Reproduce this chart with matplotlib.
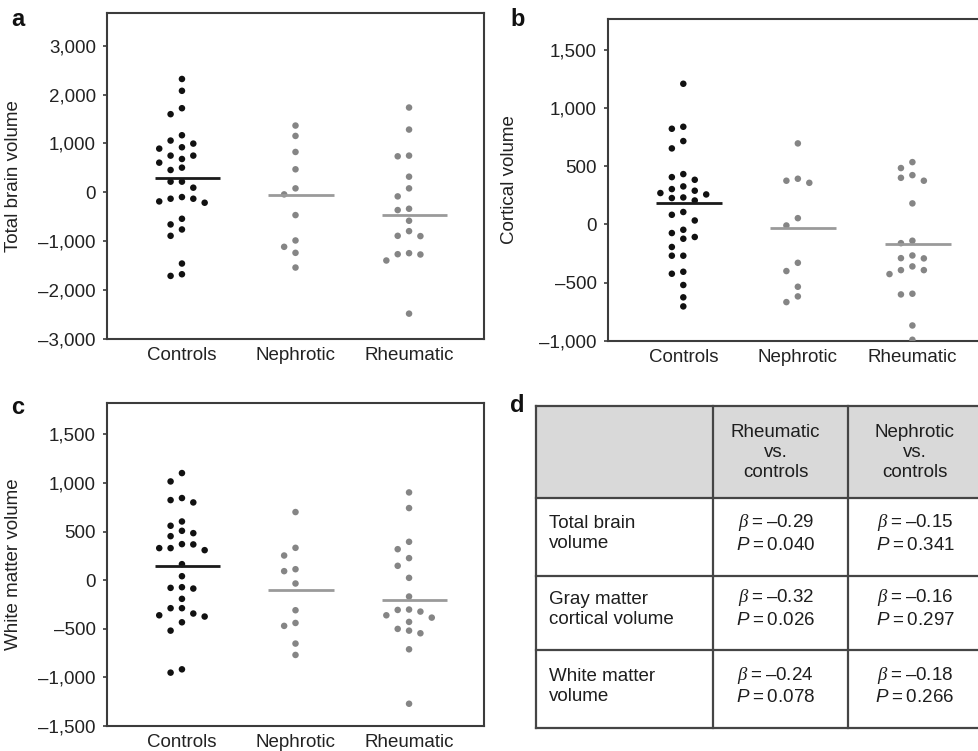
import numpy as np
import matplotlib
matplotlib.use("Agg")
import matplotlib.pyplot as plt
from matplotlib.patches import Rectangle
from matplotlib.lines import Line2D

plt.rcParams['font.family'] = ['Liberation Sans', 'DejaVu Sans']
plt.rcParams['mathtext.fontset'] = 'custom'
plt.rcParams['mathtext.rm'] = 'Liberation Sans'
plt.rcParams['mathtext.it'] = 'Liberation Sans:italic'
plt.rcParams['mathtext.sf'] = 'Liberation Serif:italic'

# ---------------- data ----------------
groups = ["Controls", "Nephrotic", "Rheumatic"]

total_controls = [2320, 2078, 1722, 1600, 1169, 998, 1060, 895, 923, 683, 752, 752,
                  608, 506, 458, 219, 219, 96, -130, -212, -130, -185, -96, -656,
                  -540, -759, -889, -1456, -1675, -1709]
total_nephrotic = [1367, 1155, 827, 472, 82, -41, -465, -984, -1114, -1237, -1538]
total_rheumatic = [1736, 1285, 738, 752, 321, 82, -82, -335, -362, -581, -793, -895,
                   -889, -1271, -1394, -1244, -1265, -2481]
total_means = [300, -48, -465]

cort_controls = [1210, 823, 840, 717, 654, 407, 433, 384, 327, 270, 290, 304, 258,
                 227, 206, 232, 107, 83, 34, -46, -74, -108, -123, -194, -269, -269,
                 -424, -407, -521, -627, -705]
cort_nephrotic = [697, 376, 393, 358, 54, -9, -330, -401, -536, -619, -668]
cort_rheumatic = [536, 485, 401, 376, 424, 181, -161, -140, -292, -290, -267, -393,
                  -361, -427, -393, -596, -602, -869, -992]
cort_means = [181, -32, -169]

white_controls = [1102, 1016, 800, 845, 824, 604, 560, 508, 453, 484, 368, 371, 330,
                  330, 309, 165, 41, -86, -72, -79, -192, -288, -288, -343, -374, -361,
                  -433, -519, -917, -951]
white_nephrotic = [701, 333, 254, 113, 93, -34, -309, -470, -440, -652, -769]
white_rheumatic = [903, 742, 395, 319, 227, 148, 24, -168, -302, -323, -306, -361,
                   -429, -385, -501, -546, -519, -711, -1271]
white_means = [141, -103, -203]

total_ticks = [-3000, -2000, -1000, 0, 1000, 2000, 3000]
total_ticklabels = ["\u20133,000", "\u20132,000", "\u20131,000", "0", "1,000", "2,000", "3,000"]
cort_ticks = [-1000, -500, 0, 500, 1000, 1500]
cort_ticklabels = ["\u20131,000", "\u2013500", "0", "500", "1,000", "1,500"]
white_ticks = [-1500, -1000, -500, 0, 500, 1000, 1500]
white_ticklabels = ["\u20131,500", "\u20131,000", "\u2013500", "0", "500", "1,000", "1,500"]

row_labels = ["Total brain\nvolume", "Gray matter\ncortical volume", "White matter\nvolume"]
col_headers = ["Rheumatic\nvs.\ncontrols", "Nephrotic\nvs.\ncontrols"]
beta_rheum = ["\u20130.29", "\u20130.32", "\u20130.24"]
p_rheum = ["0.040", "0.026", "0.078"]
beta_neph = ["\u20130.15", "\u20130.16", "\u20130.18"]
p_neph = ["0.341", "0.297", "0.266"]

# ---------------- figure ----------------
W, H = 979, 751
FS = 13.5
fig = plt.figure(figsize=(W / 100, H / 100), dpi=100)


def px_axes(left, top, right, bottom):
    return fig.add_axes([left / W, 1 - bottom / H, (right - left) / W, (bottom - top) / H])


DARK = "#111111"
GRAY = "#858585"
LINEGRAY = "#9a9a9a"
FRAME = "#3c3c3c"


def swarm(ax, xc, vals, min_px=8.5, step=0.1):
    vals = np.asarray(vals, dtype=float)
    pix = ax.transData.transform(np.column_stack([np.zeros(len(vals)), vals]))[:, 1]
    order = np.argsort(-vals)
    placed = {}
    cols = np.zeros(len(vals))
    for i in order:
        for c in (0, -1, 1, -2, 2, -3, 3):
            if all(abs(pix[i] - p) >= min_px for p in placed.get(c, [])):
                placed.setdefault(c, []).append(pix[i])
                cols[i] = c
                break
    return xc + cols * step


def panel(ax, data, means, ylim, ticks, ticklabels, ylabel, label_x):
    ax.set_xlim(-0.66, 2.66)
    ax.set_ylim(*ylim)
    for i, (vals, m) in enumerate(zip(data, means)):
        col = DARK if i == 0 else GRAY
        lcol = "#1a1a1a" if i == 0 else LINEGRAY
        xs = swarm(ax, i, vals)
        ax.scatter(xs, vals, s=22, color=col, edgecolors='none', zorder=3)
        ax.plot([i - 0.24, i + 0.335], [m, m], color=lcol, lw=2.0, zorder=4,
                solid_capstyle='butt')
    ax.set_xticks(range(len(groups)))
    ax.set_xticklabels(groups)
    ax.set_yticks(ticks)
    ax.set_yticklabels(ticklabels)
    ax.tick_params(axis='x', length=0, pad=6, labelsize=FS, labelcolor="#222222")
    ax.tick_params(axis='y', length=3, width=1.2, color=FRAME, pad=5, labelsize=FS,
                   labelcolor="#222222")
    for s in ax.spines.values():
        s.set_color(FRAME)
        s.set_linewidth(1.5)
    ax.set_ylabel(ylabel, fontsize=FS, color="#222222")
    ax.yaxis.set_label_coords(label_x, 0.5)


ax_a = px_axes(107, 13, 484, 339)
panel(ax_a, [total_controls, total_nephrotic, total_rheumatic], total_means,
      (-3000, 3670), total_ticks, total_ticklabels, "Total brain volume", -0.226)

ax_b = px_axes(607.7, 19, 988, 340.7)
panel(ax_b, [cort_controls, cort_nephrotic, cort_rheumatic], cort_means,
      (-1000, 1767), cort_ticks, cort_ticklabels, "Cortical volume", -0.236)

ax_c = px_axes(107, 402.7, 484, 726)
panel(ax_c, [white_controls, white_nephrotic, white_rheumatic], white_means,
      (-1500, 1826), white_ticks, white_ticklabels, "White matter volume", -0.226)

# ---------------- overlay: labels and table ----------------
ov = fig.add_axes([0, 0, 1, 1], zorder=10)
ov.set_xlim(0, W)
ov.set_ylim(H, 0)
ov.axis('off')
ov.patch.set_alpha(0)

for t, x, y in [("a", 18, 19), ("b", 518, 19), ("c", 18, 407), ("d", 517, 406)]:
    ov.text(x, y, t, fontsize=17, fontweight='bold', ha='center', va='center', color="#111111")

tl, tr = 535.7, 992
tt, tb = 405.7, 727.7
hb = 498.3
rows_y = [hb, 575.7, 650, tb]
cols_x = [tl, 713.3, 848.3]
ov.add_patch(Rectangle((tl, tt), tr - tl, hb - tt, facecolor="#d9d9d9", edgecolor='none'))
for y in [tt] + rows_y:
    ov.add_line(Line2D([tl, tr], [y, y], color="#454545", lw=1.6))
for x in cols_x:
    ov.add_line(Line2D([x, x], [tt, tb], color="#454545", lw=1.6))

tkw = dict(fontsize=FS, color="#1e1e1e", linespacing=1.22)
col_centers = [775.7, 915.0]
for cx, h in zip(col_centers, col_headers):
    ov.text(cx, 452.3, h, ha='center', va='center', multialignment='center', **tkw)

row_mid = [533.9, 609.2, 686.2]
for ym, lab in zip(row_mid, row_labels):
    ov.text(549.3, ym, lab, ha='left', va='center', **tkw)

for cx, betas, ps in zip(col_centers, [beta_rheum, beta_neph], [p_rheum, p_neph]):
    for ym, b, p in zip(row_mid, betas, ps):
        ov.text(cx, ym - 11.2, r"$\mathsf{\beta}$" + "\u2009=\u2009" + b,
                ha='center', va='center', fontsize=FS, color="#1e1e1e")
        ov.text(cx, ym + 11.2, r"$\mathit{P}$" + "\u2009=\u2009" + p,
                ha='center', va='center', fontsize=FS, color="#1e1e1e")

fig.savefig("out.png", dpi=100)
